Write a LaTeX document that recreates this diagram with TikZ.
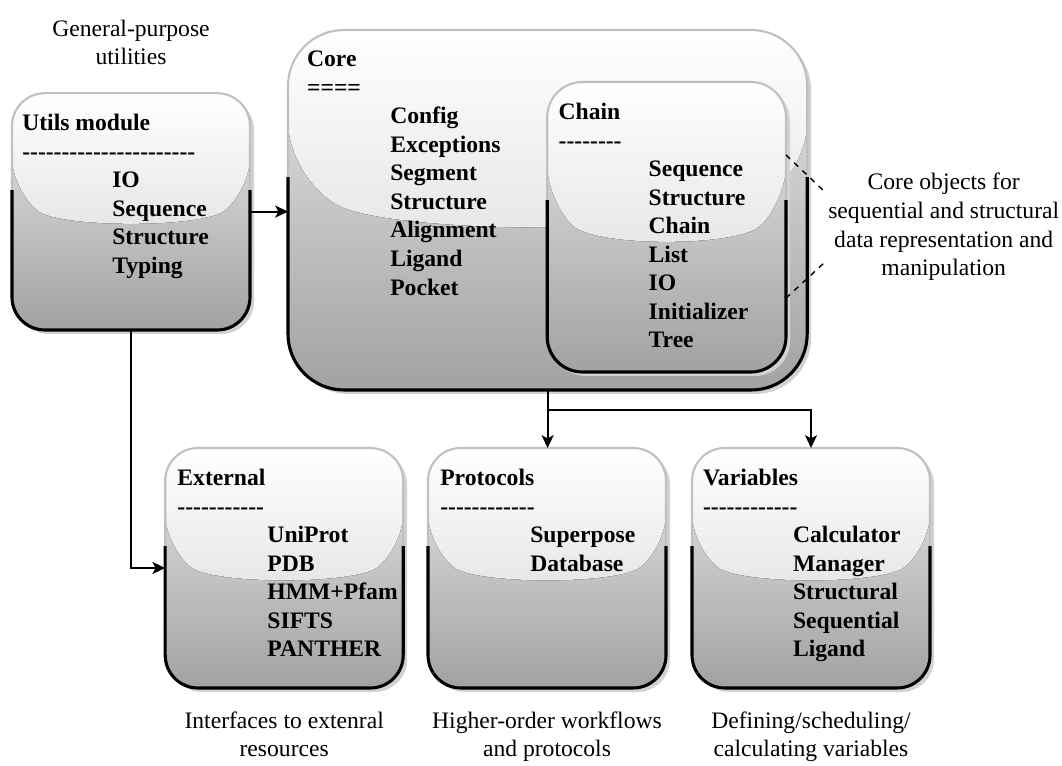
\documentclass[tikz,border=0pt]{standalone}
\usepackage{fontspec}
\setmainfont{Liberation Serif}[Ligatures=TeXOff]
\usepackage{xcolor}
\usepackage{tikz}
\usetikzlibrary{arrows.meta,calc,positioning}
\definecolor{GBTop}{HTML}{E8E8E8}
\definecolor{GBBottom}{HTML}{A2A2A2}
\definecolor{GBGlossTop}{HTML}{FFFFFF}
\definecolor{GBGlossBottom}{HTML}{D4D4D4}
\definecolor{GBRim}{HTML}{C0C0C0}
\definecolor{GBShadow}{HTML}{D2D2D2}

\tikzset{
  glass/.style={rectangle,inner sep=0pt,outer sep=0pt,draw=GBRim,line width=1.5pt,
    top color=GBTop,bottom color=GBBottom,
    path picture={\fill[top color=GBGlossTop,bottom color=GBGlossBottom]
      let \p1=(path picture bounding box.north west),\p2=(path picture bounding box.south east)
      in (\x1,\y1) -- (\x1,{\y1-0.41*(\y1-\y2)})
      .. controls ({\x1+0.2*(\x2-\x1)},{\y1-0.57*(\y1-\y2)}) and ({\x2-0.2*(\x2-\x1)},{\y1-0.57*(\y1-\y2)}) .. (\x2,{\y1-0.41*(\y1-\y2)})
      -- (\x2,\y1) -- cycle;}},
  modtext/.style={anchor=north west,align=left,inner sep=0pt,font=\bfseries\fontsize{16.8}{20.3}\selectfont},
  notetext/.style={align=center,inner sep=0pt,font=\fontsize{16.8}{20.3}\selectfont},
  link/.style={line width=1.4pt,-{Stealth[length=0.32cm,width=0.30cm,inset=0.08cm]}},
  noteline/.style={line width=1pt,dash pattern=on 4pt off 4pt}
}
\newcommand{\modind}{\hspace*{2.25cm}}
% glass box: name, left, top, right, bottom, corner radius
\newcommand{\glassbox}[6]{%
  \fill[GBShadow,rounded corners=#6cm] ({#2+0.1},{#3-0.1}) rectangle ({#4+0.1},{#5-0.1});
  \node[glass,rounded corners=#6cm,minimum width={(#4-#2)*1cm},minimum height={(#3-#5)*1cm}] (#1) at ({(#2+#4)/2},{(#3+#5)/2}) {};
  \begin{scope}
    \clip ({#2-0.3},{#3-0.41*(#3-#5)}) rectangle ({#4+0.3},{#5-0.3});
    \draw[line width=2.2pt,rounded corners=#6cm] (#1.north west) rectangle (#1.south east);
  \end{scope}}

\begin{document}
\begin{tikzpicture}[x=1cm,y=1cm]
\path[use as bounding box] (0,0) rectangle (26.55,19.13);
% boxes
\glassbox{utils}{0.30}{16.80}{6.25}{10.88}{0.82}
\glassbox{core}{7.20}{18.38}{20.18}{9.38}{1.40}
\glassbox{chain}{13.68}{17.08}{19.65}{9.83}{0.88}
\glassbox{external}{4.13}{7.93}{10.08}{1.93}{0.82}
\glassbox{protocols}{10.70}{7.93}{16.65}{1.93}{0.82}
\glassbox{variables}{17.30}{7.93}{23.25}{1.93}{0.82}
% box texts
\node[modtext] (utilsText) at ([xshift=0.25cm,yshift=-0.52cm]utils.north west)
  {Utils module\\----------------------\\\modind IO\\\modind Sequence\\\modind Structure\\\modind Typing};
\node[modtext] (coreText) at ([xshift=0.47cm,yshift=-0.52cm]core.north west)
  {Core\\====\\\hspace*{2.08cm}Config\\\hspace*{2.08cm}Exceptions\\\hspace*{2.08cm}Segment\\\hspace*{2.08cm}Structure\\\hspace*{2.08cm}Alignment\\\hspace*{2.08cm}Ligand\\\hspace*{2.08cm}Pocket};
\node[modtext] (chainText) at ([xshift=0.28cm,yshift=-0.52cm]chain.north west)
  {Chain\\--------\\\modind Sequence\\\modind Structure\\\modind Chain\\\modind List\\\modind IO\\\modind Initializer\\\modind Tree};
\node[modtext] (externalText) at ([xshift=0.30cm,yshift=-0.52cm]external.north west)
  {External\\-----------\\\modind UniProt\\\modind PDB\\\modind HMM+Pfam\\\modind SIFTS\\\modind PANTHER};
\node[modtext] (protocolsText) at ([xshift=0.30cm,yshift=-0.52cm]protocols.north west)
  {Protocols\\------------\\\modind Superpose\\\modind Database};
\node[modtext] (variablesText) at ([xshift=0.27cm,yshift=-0.52cm]variables.north west)
  {Variables\\------------\\\modind Calculator\\\modind Manager\\\modind Structural\\\modind Sequential\\\modind Ligand};
% notes
\node[notetext,above=0.70cm of utils] (utilsNote) {General-purpose\\utilities};
\node[notetext,right=1.05cm of chain] (coreNote) {Core objects for\\sequential and structural\\data representation and\\manipulation};
\node[notetext,below=0.58cm of external] (externalNote) {Interfaces to extenral\\resources};
\node[notetext,below=0.58cm of protocols] (protocolsNote) {Higher-order workflows\\and protocols};
\node[notetext,below=0.58cm of variables] (variablesNote) {Defining/scheduling/\\calculating variables};
\draw[noteline] ([yshift=1.80cm]chain.east) -- ([xshift=-0.08cm,yshift=0.88cm]coreNote.west);
\draw[noteline] ([yshift=-1.78cm]chain.east) -- ([xshift=-0.08cm,yshift=-0.88cm]coreNote.west);
% links
\draw[link] (utils.east) -- (utils.east -| core.west);
\draw[link] (utils.south) |- (external.west);
\draw[link] (core.south) -- (core.south |- protocols.north);
\draw[link] (core.south) -- ++(0,-0.50) -| (variables.north);
\end{tikzpicture}
\end{document}
